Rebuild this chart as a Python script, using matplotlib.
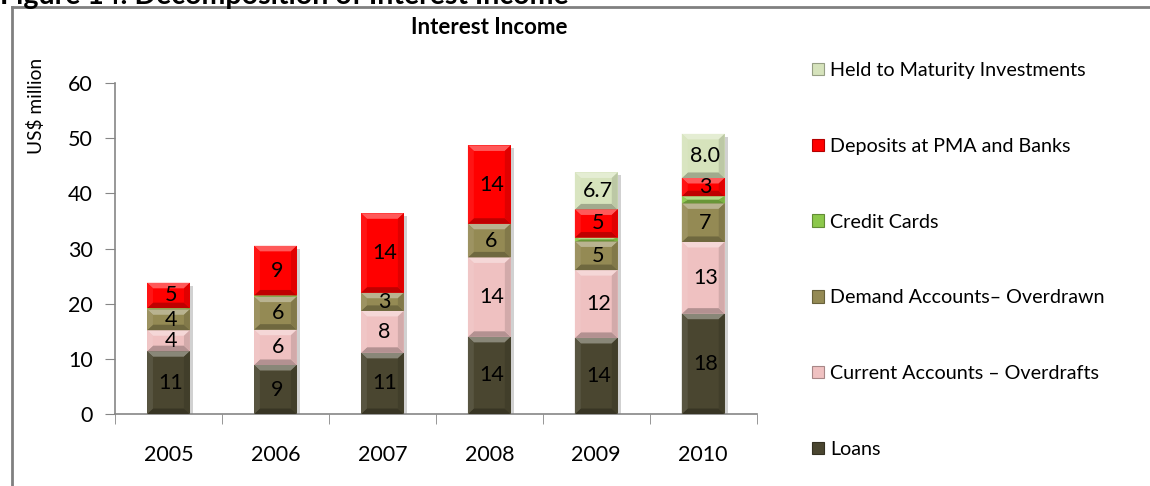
import matplotlib.pyplot as plt
import matplotlib.transforms as mtransforms
from matplotlib.patches import Polygon, Patch
from matplotlib.lines import Line2D
from matplotlib.colors import to_rgb

plt.rcParams['font.family'] = ['Lato', 'DejaVu Sans']
plt.rcParams['font.size'] = 14

years = ['2005', '2006', '2007', '2008', '2009', '2010']

# US$ million, bottom to top of each stack
loans = [11.4, 8.9, 11.1, 14.0, 13.8, 18.2]
current_acc = [3.8, 6.4, 7.6, 14.4, 12.3, 13.0]
demand_acc = [3.8, 6.0, 3.3, 6.1, 5.2, 7.0]
credit_cards = [0.2, 0.2, 0.0, 0.0, 0.7, 1.3]
deposits = [4.6, 9.0, 14.4, 14.2, 5.1, 3.3]
htm = [0.0, 0.0, 0.0, 0.0, 6.7, 8.0]

series = [
    ('Loans', loans, '#4a4630', '{:.0f}'),
    ('Current Accounts \u2013 Overdrafts', current_acc, '#efc1c1', '{:.0f}'),
    ('Demand Accounts\u2013 Overdrawn', demand_acc, '#948a54', '{:.0f}'),
    ('Credit Cards', credit_cards, '#8cc84b', None),
    ('Deposits at PMA and Banks', deposits, '#ff0000', '{:.0f}'),
    ('Held to Maturity Investments', htm, '#d6e3bc', '{:.1f}'),
]


def shade(c, f):
    r, g, b = to_rgb(c)
    if f >= 0:
        return (r + (1 - r) * f, g + (1 - g) * f, b + (1 - b) * f)
    return (r * (1 + f), g * (1 + f), b * (1 + f))


def bevel(ax, rect, color):
    # fake Excel bevel: light top, dark bottom, shaded sides
    x0, y0 = rect.get_x(), rect.get_y()
    x1, y1 = x0 + rect.get_width(), y0 + rect.get_height()
    h = rect.get_height()
    if h <= 0:
        return
    dx = 0.055
    dy = min(1.0, h / 2.0)
    faces = [
        ([(x0, y1), (x1, y1), (x1 - dx, y1 - dy), (x0 + dx, y1 - dy)], shade(color, 0.35)),
        ([(x0, y0), (x1, y0), (x1 - dx, y0 + dy), (x0 + dx, y0 + dy)], shade(color, -0.25)),
        ([(x0, y0), (x0 + dx, y0 + dy), (x0 + dx, y1 - dy), (x0, y1)], shade(color, 0.08)),
        ([(x1, y0), (x1 - dx, y0 + dy), (x1 - dx, y1 - dy), (x1, y1)], shade(color, -0.12)),
    ]
    for pts, fc in faces:
        ax.add_patch(Polygon(pts, closed=True, facecolor=fc, edgecolor='none', zorder=3))


fig = plt.figure(figsize=(11.5, 4.86), dpi=100)
ax = fig.add_axes([0.1, 0.148, 0.558, 0.681])

x = list(range(len(years)))
width = 0.4

# drop shadow behind each stack
totals = [sum(v) for v in zip(loans, current_acc, demand_acc, credit_cards, deposits, htm)]
shadow_tr = mtransforms.offset_copy(ax.transData, fig=fig, x=3, y=-3, units='dots')
ax.bar(x, totals, width, color='#000000', alpha=0.18, transform=shadow_tr, zorder=1)

bottom = [0.0] * len(years)
for name, vals, color, fmt in series:
    bars = ax.bar(x, vals, width, bottom=bottom, color=color, edgecolor='none', zorder=2)
    for rect, v in zip(bars, vals):
        bevel(ax, rect, color)
        if fmt and v > 0:
            ax.text(rect.get_x() + rect.get_width() / 2 + 0.02,
                    rect.get_y() + rect.get_height() / 2, fmt.format(v),
                    ha='center', va='center', fontsize=15.5, color='black', zorder=5)
    bottom = [b + v for b, v in zip(bottom, vals)]

ax.set_xlim(-0.5, len(years) - 0.5)
ax.set_ylim(0, 60)
ax.set_yticks(range(0, 61, 10))
ax.set_xticks(x)
ax.set_xticklabels(years)
ax.set_xticks([i + 0.5 for i in range(-1, len(years))], minor=True)
ax.tick_params(axis='x', which='major', length=0, pad=22, labelsize=15.5)
ax.tick_params(axis='x', which='minor', length=7, direction='out', color='#868686')
ax.tick_params(axis='y', length=7, direction='out', color='#868686', pad=9, labelsize=15.5)
for s in ['top', 'right']:
    ax.spines[s].set_visible(False)
for s in ['left', 'bottom']:
    ax.spines[s].set_color('#868686')
    ax.spines[s].set_linewidth(1.2)

fig.text(0.031, 1 - 106 / 486, 'US$ million', rotation=90, ha='center', va='center', fontsize=13.8)
fig.text(489 / 1150, 1 - 28 / 486, 'Interest Income', ha='center', va='center',
         fontsize=16, fontweight='bold')
fig.text(0.0, 1 - 4 / 486, 'Figure 14: Decomposition of Interest Income', ha='left',
         va='baseline', fontsize=20.5, fontweight='bold')

# frame around the figure block
fig.add_artist(Line2D([12 / 1150, 12 / 1150], [0, 1 - 7 / 486], transform=fig.transFigure,
                      color='#808080', lw=2))
fig.add_artist(Line2D([12 / 1150, 1], [1 - 7 / 486, 1 - 7 / 486], transform=fig.transFigure,
                      color='#808080', lw=2))

handles = [Patch(facecolor=c, edgecolor=shade(c, -0.3), linewidth=0.8, label=n)
           for n, _, c, _ in series][::-1]
fig.legend(handles=handles, loc='upper left', bbox_to_anchor=(812 / 1150, 1 - 62 / 486),
           frameon=False, fontsize=14.2, handlelength=0.6, handleheight=0.6,
           handletextpad=0.3, labelspacing=2.98, borderpad=0, borderaxespad=0)

fig.savefig('out.png', dpi=100)
